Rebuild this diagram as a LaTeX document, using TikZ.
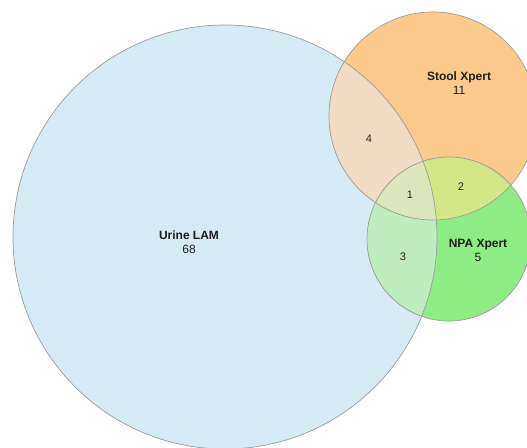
\documentclass[tikz,border=0pt]{standalone}
\usepackage{fontspec}
\setmainfont{Liberation Sans}
\usepackage{tikz}
\usetikzlibrary{positioning}
\usepackage{xcolor}

\definecolor{lamblue}{HTML}{D5EAF3}
\definecolor{stoolorange}{HTML}{FDCA8D}
\definecolor{npagreen}{HTML}{8EEC84}
\definecolor{lamstool}{HTML}{F0DCC4}
\definecolor{lamnpa}{HTML}{BEEDBF}
\definecolor{stoolnpa}{HTML}{D4E68A}
\definecolor{allthree}{HTML}{DDE6BA}

\begin{document}
\begin{tikzpicture}[
    x=1pt, y=-1pt,
    setlabel/.style={align=center, text=black!88, font=\fontsize{12}{14}\selectfont},
    count/.style={text=black!85, font=\fontsize{11}{13}\selectfont},
    rim/.style={draw=black!38, line width=0.7pt}
]
\useasboundingbox[fill=white] (0,0) rectangle (527,447);
\coordinate (lam) at (225,237);
\coordinate (stool) at (433,116);
\coordinate (npa) at (449,239);

% single sets
\fill[lamblue] (lam) circle (212pt);
\fill[stoolorange] (stool) circle (104pt);
\fill[npagreen] (npa) circle (82pt);

% overlaps
\begin{scope}
  \clip (lam) circle (212pt);
  \fill[lamstool] (stool) circle (104pt);
  \fill[lamnpa] (npa) circle (82pt);
\end{scope}
\begin{scope}
  \clip (stool) circle (104pt);
  \fill[stoolnpa] (npa) circle (82pt);
  \clip (lam) circle (212pt);
  \fill[allthree] (npa) circle (82pt);
\end{scope}

% outlines
\draw[rim] (lam) circle (212pt);
\draw[rim] (stool) circle (104pt);
\draw[rim] (npa) circle (82pt);

% labels
\node[setlabel] (lamtxt) at (189,242) {\textbf{Urine LAM}\\68};
\node[setlabel] (stooltxt) at (459,83) {\textbf{Stool Xpert}\\11};
\node[setlabel] (npatxt) at (478,250) {\textbf{NPA Xpert}\\5};
\node[count] (n4) at (369,139) {4};
\node[count] (n1) at (410,195) {1};
\node[count] (n2) at (461,187) {2};
\node[count] (n3) at (403,257) {3};
\end{tikzpicture}
\end{document}
